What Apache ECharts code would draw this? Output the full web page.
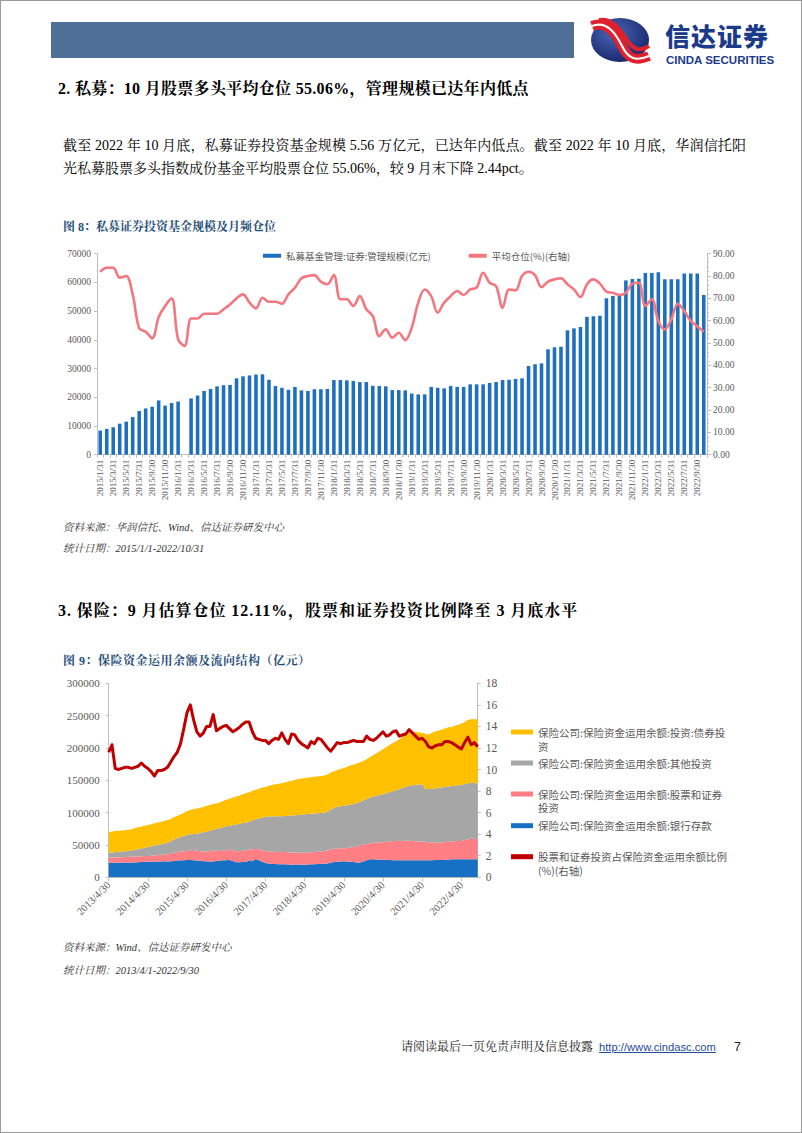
<!DOCTYPE html>
<html>
<head>
<meta charset="utf-8">
<script src="https://cdn.jsdelivr.net/npm/echarts/dist/echarts.min.js"></script>
<style>
  html, body { margin:0; padding:0; background:#fff; }
  #page { position:relative; width:802px; height:1133px; overflow:hidden; background:#fff; box-sizing:border-box; border:1px solid #9a9a9a; }
  .abs { position:absolute; white-space:nowrap; }
  .serif { font-family:"Liberation Serif","Noto Serif CJK SC","Noto Sans CJK SC",serif; }
  .h2 { font-size:16px; font-weight:bold; color:#000; }
  .body { font-size:14px; color:#000; }
  .fig { font-size:12px; font-weight:bold; color:#1f4e79; }
  .note { font-size:10.5px; font-style:italic; color:#333; }
</style>
</head>
<body>
<div id="page">
  <div class="abs" style="left:50px;top:21px;width:523px;height:36px;background:#4f6f96;"></div>
  <svg class="abs" style="left:588px;top:15px" width="62" height="48" viewBox="0 0 62 48">
    <defs>
      <radialGradient id="lg" cx="40%" cy="35%" r="70%">
        <stop offset="0" stop-color="#4c66b5"/><stop offset="1" stop-color="#14246b"/>
      </radialGradient>
    </defs>
    <ellipse cx="31" cy="24" rx="29" ry="22" fill="url(#lg)"/>
    <path d="M3 10 C 18 4, 27 18, 33 30 S 46 46, 60 40" stroke="#e0202a" stroke-width="10" fill="none"/>
    <path d="M3 10 C 18 4, 27 18, 33 30 S 46 46, 60 40" stroke="#ffffff" stroke-width="2.2" fill="none"/>
    <path d="M10 4 C 24 2, 31 14, 38 24 S 50 36, 60 30" stroke="#e0202a" stroke-width="4" fill="none"/>
  </svg>
  <div class="abs" style="left:664px;top:22px;font-family:'Noto Sans CJK SC';font-weight:900;font-size:25px;line-height:24px;color:#1c3a8a;letter-spacing:1px;">信达证券</div>
  <div class="abs" style="left:665px;top:53px;font-family:'Liberation Sans',Arial,sans-serif;font-weight:bold;font-size:11.5px;line-height:12px;color:#1c3a8a;">CINDA SECURITIES</div>

  <div class="abs serif h2" style="left:57px;top:78px;line-height:20px;letter-spacing:0.3px;">2. 私募：10 月股票多头平均仓位 55.06%，管理规模已达年内低点</div>

  <div class="abs serif body" style="left:62px;top:134px;width:683px;line-height:22px;text-align:justify;text-align-last:justify;white-space:normal;">截至 2022 年 10 月底，私募证券投资基金规模 5.56 万亿元，已达年内低点。截至 2022 年 10 月底，华润信托阳</div>
  <div class="abs serif body" style="left:62px;top:157px;line-height:22px;">光私募股票多头指数成份基金平均股票仓位 55.06%，较 9 月末下降 2.44pct。</div>

  <div class="abs serif fig" style="left:62px;top:218px;line-height:16px;">图 8：私募证券投资基金规模及月频仓位</div>

  <div id="c1" class="abs" style="left:50px;top:240px;width:710px;height:275px;"></div>

  <div class="abs serif note" style="left:62px;top:519px;line-height:16px;">资料来源：华润信托、Wind、信达证券研发中心</div>
  <div class="abs serif note" style="left:62px;top:540px;line-height:16px;">统计日期：2015/1/1-2022/10/31</div>

  <div class="abs serif h2" style="left:57px;top:600px;line-height:20px;letter-spacing:0.95px;">3. 保险：9 月估算仓位 12.11%，股票和证券投资比例降至 3 月底水平</div>

  <div class="abs serif fig" style="left:62px;top:652px;line-height:16px;letter-spacing:0.5px;">图 9：保险资金运用余额及流向结构（亿元）</div>

  <div id="c2" class="abs" style="left:50px;top:670px;width:740px;height:280px;"></div>

  <div class="abs serif note" style="left:62px;top:939px;line-height:16px;">资料来源：Wind、信达证券研发中心</div>
  <div class="abs serif note" style="left:62px;top:962px;line-height:16px;">统计日期：2013/4/1-2022/9/30</div>

  <div class="abs serif" style="left:400px;top:1038px;font-size:12px;line-height:16px;color:#222;">请阅读最后一页免责声明及信息披露</div>
  <div class="abs" style="left:598px;top:1038px;font-family:'Liberation Sans',Arial,sans-serif;font-size:11.2px;line-height:16px;color:#1f4e9c;text-decoration:underline;">http://www.cindasc.com</div>
  <div class="abs" style="left:733px;top:1038px;font-family:'Liberation Sans',Arial,sans-serif;font-size:12.5px;line-height:16px;color:#222;">7</div>
</div>

<script>
// ---------- helpers for month-end category labels ----------
function monthEnds(y0, m0, n) {
  const out = [];
  for (let k = 0; k < n; k++) {
    const y = y0 + Math.floor((m0 - 1 + k) / 12);
    const m = (m0 - 1 + k) % 12 + 1;
    const d = new Date(y, m, 0).getDate();
    out.push(y + '/' + m + '/' + d);
  }
  return out;
}

// ---------- Figure 8 data ----------
const months8 = monthEnds(2015, 1, 94); // 2015/1/31 ... 2022/10/31
const fundScale = [
  8400, 9000, 9600, 10800, 11500, 13100, 15200, 16100, 16700, 18900, 17100, 18000,
  18500, null, 19600, 20600, 22200, 22900, 23800, 24200, 24300, 26600, 27300, 27600,
  27900, 28000, 26100, 23900, 23300, 22600, 23600, 22400, 22200, 22800, 22800, 22900,
  26000, 26000, 25900, 25700, 25300, 25300, 24000, 23900, 23800, 22500, 22500, 22400,
  21300, 21000, 21000, 23600, 23300, 23100, 23900, 23600, 23600, 24500, 24500, 24500,
  25000, 25300, 26000, 26100, 26400, 26600, 30900, 31500, 31800, 36700, 37400, 37600,
  43300, 44000, 44500, 48000, 48200, 48400, 54500, 55300, 55300, 60700, 61200, 61300,
  63300, 63300, 63500, 61100, 61100, 61100, 63100, 63100, 63100, 55600
];
const avgPosition = [
  81.9, 83.7, 83.7, 79.3, 80.0, 71.8, 56.6, 55.1, 52.1, 61.6, 66.6, 70.0,
  51.6, 48.7, 61.0, 61.0, 63.1, 63.1, 63.1, 65.1, 67.3, 70.0, 71.8, 68.1,
  65.5, 70.3, 68.5, 68.5, 67.6, 71.8, 74.8, 79.0, 80.0, 80.4, 77.5, 76.3,
  80.4, 69.6, 69.6, 66.6, 71.0, 65.1, 62.1, 53.1, 56.1, 52.4, 54.6, 51.3,
  56.9, 68.1, 74.0, 71.0, 63.6, 68.1, 71.0, 73.3, 71.5, 74.0, 74.8, 81.5,
  77.0, 75.5, 65.8, 74.0, 73.6, 80.0, 81.9, 80.4, 75.0, 77.5, 78.5, 79.0,
  76.3, 74.0, 70.6, 76.3, 78.5, 76.6, 73.0, 72.5, 71.5, 72.5, 76.6, 77.0,
  66.6, 69.6, 59.9, 56.1, 60.6, 67.6, 64.3, 59.9, 57.5, 55.06
];
const name8a = '私募基金管理:证券:管理规模(亿元)';
const name8b = '平均仓位(%)(右轴)';

// ---------- Figure 9 data ----------
const months9 = monthEnds(2013, 4, 114); // 2013/4/30 ... 2022/9/30
const bankDeposit = [
  22700, 22500, 22800, 22600, 22400, 22700, 22600, 22900, 22800,
  23400, 23700, 24000, 24200, 24000, 24500, 24300, 24400, 24700, 24500, 24800, 25300,
  25800, 26200, 26500, 26800, 26600, 26400, 25900, 25500, 25000, 24700, 24500, 24400,
  25200, 25800, 26200, 26300, 27300, 25100, 23200, 23300, 23700, 24200, 25500, 24800,
  28300, 26500, 24000, 22200, 21400, 20800, 20400, 20100, 20200, 20000, 19800, 19300,
  19700, 19900, 19500, 19600, 19800, 20300, 20100, 20500, 20800, 21100, 21300, 22400,
  23500, 24000, 24400, 24700, 24300, 24000, 23500, 23000, 22700, 24500, 26500, 27800,
  27800, 27500, 27300, 27000, 26800, 26800, 26500, 26400, 26300, 26300, 26300, 26200,
  26300, 26300, 26300, 26300, 26300, 26400, 26500, 26600, 26800, 26800, 26800, 27000,
  27800, 27800, 27800, 27800, 27800, 27800, 27800, 27800, 27800
];
const stockInvest = [
  7700, 8000, 7900, 8300, 8700, 8700, 9000, 8900, 9200,
  8800, 8800, 8800, 8800, 9300, 9300, 9900, 10300, 10400, 11100, 11700, 12500,
  12800, 13300, 13700, 13900, 15200, 15900, 15100, 14700, 14800, 15000, 16000, 17100,
  15800, 15000, 15300, 15500, 15700, 16400, 17100, 17200, 17000, 17300, 17300, 18700,
  15500, 16700, 17800, 18500, 18600, 18800, 19000, 19100, 18900, 19000, 18900, 19100,
  18600, 18300, 18500, 18500, 18600, 18500, 19100, 19100, 19200, 19600, 20200, 20400,
  20500, 20500, 20400, 20300, 21200, 22000, 23500, 25000, 26800, 26000, 25000, 24700,
  25700, 26300, 26700, 27100, 28000, 28500, 29500, 29800, 30200, 29900, 30100, 30300,
  29700, 29300, 29100, 28900, 28500, 27800, 27300, 27000, 26800, 27200, 27700, 28000,
  27700, 28200, 28400, 28400, 29700, 31200, 32000, 31700, 31000
];
const otherInvest = [
  7700, 8000, 8300, 8500, 8700, 8800, 9100, 9700, 10500,
  11300, 12000, 12900, 13900, 14500, 15200, 15800, 16600, 17300, 18000, 19000, 20700,
  21900, 22800, 23800, 24800, 24600, 24700, 26500, 28300, 29700, 30900, 31500, 32000,
  33800, 35000, 35800, 37100, 36800, 39300, 41500, 42300, 43100, 43000, 43200, 44500,
  45900, 47800, 50700, 53100, 54000, 54600, 54900, 55300, 55500, 55800, 56500, 57200,
  57500, 58000, 58800, 59300, 59400, 59400, 59400, 59600, 59600, 59300, 60000, 61700,
  63500, 64500, 65200, 65500, 66000, 66500, 66500, 67000, 67500, 68500, 69500, 71000,
  71500, 72200, 73500, 74300, 75200, 76200, 77000, 78300, 79500, 81800, 83600, 85000,
  86500, 87400, 88100, 88600, 81200, 82300, 83200, 83900, 84900, 85000, 85200, 85500,
  85500, 86000, 86300, 86600, 86500, 86500, 86600, 86500, 86000
];
const bondInvest = [
  32000, 32400, 32500, 32600, 32500, 32500, 32800, 32900, 33600,
  33900, 33800, 33900, 34000, 34200, 34400, 34800, 34600, 34800, 35100, 34600, 34800,
  34700, 35000, 35800, 37100, 37600, 38500, 38700, 39000, 39300, 39900, 39800, 40000,
  39400, 40000, 40700, 41200, 41800, 42700, 43000, 43400, 44600, 45300, 45400, 45900,
  45700, 46000, 46300, 45900, 47300, 48600, 49600, 50300, 51000, 51900, 52800, 53600,
  54800, 55700, 55900, 55700, 56600, 56600, 57000, 57000, 57100, 57300, 57400, 57500,
  56500, 57000, 57500, 58500, 59500, 60500, 61000, 61000, 61000, 61000, 61500, 62500,
  64000, 66000, 67500, 69600, 71000, 73000, 74500, 76000, 77500, 79000, 80500, 82000,
  82000, 82000, 80500, 79900, 85500, 84500, 86500, 88000, 88500, 89500, 90300, 91500,
  91500, 92500, 93500, 94800, 96000, 98000, 97900, 98500, 99500
];
const stockRatio = [
  11.6, 12.3, 10.1, 10.0, 10.1, 10.2, 10.2, 10.1, 10.2,
  10.3, 10.6, 10.3, 10.1, 9.8, 9.4, 9.9, 9.9, 10.0, 10.2, 10.7, 11.2,
  11.6, 12.4, 13.8, 15.3, 16.0, 14.6, 13.5, 13.1, 13.4, 14.0, 14.0, 15.1,
  13.6, 13.8, 14.0, 14.1, 13.8, 13.5, 13.7, 13.9, 14.2, 14.4, 14.4, 13.5,
  12.9, 12.8, 12.7, 12.7, 12.4, 12.7, 12.9, 12.8, 13.4, 12.8, 12.4, 13.3,
  13.2, 12.7, 12.4, 12.2, 12.0, 12.6, 12.4, 12.9, 12.8, 12.4, 12.0, 11.7,
  12.1, 12.5, 12.4, 12.5, 12.5, 12.6, 12.7, 12.6, 12.6, 12.6, 13.1, 12.8,
  12.7, 12.9, 13.2, 13.5, 13.1, 13.2, 13.5, 13.6, 13.1, 13.2, 13.3, 13.7,
  13.4, 13.1, 12.8, 12.9, 12.6, 12.1, 12.0, 12.2, 12.3, 12.3, 12.6, 12.6,
  12.5, 12.3, 12.1, 11.9, 12.5, 13.0, 12.3, 12.5, 12.11
];
const nBond = '保险公司:保险资金运用余额:投资:债券投资';
const nOther = '保险公司:保险资金运用余额:其他投资';
const nStock = '保险公司:保险资金运用余额:股票和证券投资';
const nBank = '保险公司:保险资金运用余额:银行存款';
const nRatio = '股票和证券投资占保险资金运用余额比例(%)(右轴)';

const SERIF = 'Liberation Serif';
const CJK = 'Noto Sans CJK SC';
const AX = '#bfbfbf';
const LBL = '#595959';

// ---------- Figure 8 chart ----------
const c1 = echarts.init(document.getElementById('c1'), null, { renderer: 'svg' });
c1.setOption({
  animation: false,
  legend: {
    left: 212, top: 10, padding: 0, itemWidth: 18, itemHeight: 4, itemGap: 38,
    textStyle: { fontSize: 9.5, color: LBL, fontFamily: CJK },
    data: [{ name: name8a, icon: 'rect' }, { name: name8b, icon: 'rect' }]
  },
  grid: { left: 46, right: 54, top: 12.7, bottom: 61.3 },
  xAxis: {
    type: 'category', data: months8, boundaryGap: true,
    axisLine: { lineStyle: { color: AX } },
    axisTick: { show: true, interval: 0, length: 3, lineStyle: { color: AX } },
    axisLabel: { interval: 1, rotate: 90, fontSize: 9, color: LBL, fontFamily: SERIF, margin: 5 }
  },
  yAxis: [
    {
      type: 'value', min: 0, max: 70000, interval: 10000,
      axisLine: { show: true, lineStyle: { color: AX } },
      axisTick: { show: true, length: 3, lineStyle: { color: AX } },
      splitLine: { show: false },
      axisLabel: { fontSize: 9.5, color: LBL, fontFamily: SERIF, margin: 6, formatter: v => String(v) }
    },
    {
      type: 'value', min: 0, max: 90, interval: 10, position: 'right',
      axisLine: { show: true, lineStyle: { color: AX } },
      axisTick: { show: true, length: 4, lineStyle: { color: AX } },
      minorTick: { show: true, splitNumber: 5, length: 2, lineStyle: { color: AX } },
      splitLine: { show: false },
      axisLabel: { fontSize: 9.5, color: LBL, fontFamily: SERIF, margin: 6, formatter: v => v.toFixed(2) }
    }
  ],
  series: [
    { name: name8a, type: 'bar', data: fundScale, barWidth: '55%', itemStyle: { color: '#1f6fc0' } },
    { name: name8b, type: 'line', yAxisIndex: 1, data: avgPosition, smooth: 0.35, showSymbol: false,
      lineStyle: { color: '#f4777f', width: 2.6 }, itemStyle: { color: '#f4777f' } }
  ]
});

// ---------- Figure 9 chart ----------
const c2 = echarts.init(document.getElementById('c2'), null, { renderer: 'svg' });
function areaSeries(name, data, color) {
  return { name, type: 'line', stack: 'total', data, showSymbol: false, symbol: 'none',
    lineStyle: { width: 0, color }, areaStyle: { color, opacity: 1 }, itemStyle: { color } };
}
const legTxt = { fontSize: 10.5, color: LBL, fontFamily: CJK, lineHeight: 13 };
function leg(name, topCenter, label) {
  return { left: 460, top: topCenter - 6.5, padding: 0, itemWidth: 22, itemHeight: 5, orient: 'vertical',
    textStyle: legTxt, data: [{ name, icon: 'rect' }], formatter: () => label };
}
const contFont = '10.5px "Noto Sans CJK SC"';
c2.setOption({
  animation: false,
  grid: { left: 57.7, right: 313.3, top: 12.3, bottom: 73.7 },
  legend: [
    leg(nBond, 61, '保险公司:保险资金运用余额:投资:债券投'),
    leg(nOther, 92, '保险公司:保险资金运用余额:其他投资'),
    leg(nStock, 123, '保险公司:保险资金运用余额:股票和证券'),
    leg(nBank, 154.7, '保险公司:保险资金运用余额:银行存款'),
    leg(nRatio, 185.7, '股票和证券投资占保险资金运用余额比例')
  ],
  graphic: [
    { type: 'text', left: 487, top: 70, style: { text: '资', font: contFont, fill: LBL } },
    { type: 'text', left: 487, top: 131, style: { text: '投资', font: contFont, fill: LBL } },
    { type: 'text', left: 487, top: 194.5, style: { text: '(%)(右轴)', font: contFont, fill: LBL } }
  ],
  xAxis: {
    type: 'category', data: months9, boundaryGap: false,
    axisLine: { lineStyle: { color: AX } },
    axisTick: { show: true, interval: 11, length: 4, lineStyle: { color: AX } },
    axisLabel: { interval: 11, rotate: 45, fontSize: 10.5, color: LBL, fontFamily: SERIF, margin: 6 }
  },
  yAxis: [
    {
      type: 'value', min: 0, max: 300000, interval: 50000,
      axisLine: { show: true, lineStyle: { color: AX } },
      axisTick: { show: true, length: 3, lineStyle: { color: AX } },
      splitLine: { show: false },
      axisLabel: { fontSize: 11, color: LBL, fontFamily: SERIF, margin: 9, formatter: v => String(v) }
    },
    {
      type: 'value', min: 0, max: 18, interval: 2, position: 'right',
      axisLine: { show: true, lineStyle: { color: AX } },
      axisTick: { show: true, length: 3, lineStyle: { color: AX } },
      splitLine: { show: false },
      axisLabel: { fontSize: 11.5, color: LBL, fontFamily: SERIF, margin: 8 }
    }
  ],
  series: [
    areaSeries(nBank, bankDeposit, '#1670c4'),
    areaSeries(nStock, stockInvest, '#ff7f85'),
    areaSeries(nOther, otherInvest, '#a6a6a6'),
    areaSeries(nBond, bondInvest, '#ffc000'),
    { name: nRatio, type: 'line', yAxisIndex: 1, data: stockRatio, showSymbol: false, symbol: 'none',
      lineStyle: { color: '#c00000', width: 3, join: 'round' }, itemStyle: { color: '#c00000' } }
  ]
});
</script>
</body>
</html>
